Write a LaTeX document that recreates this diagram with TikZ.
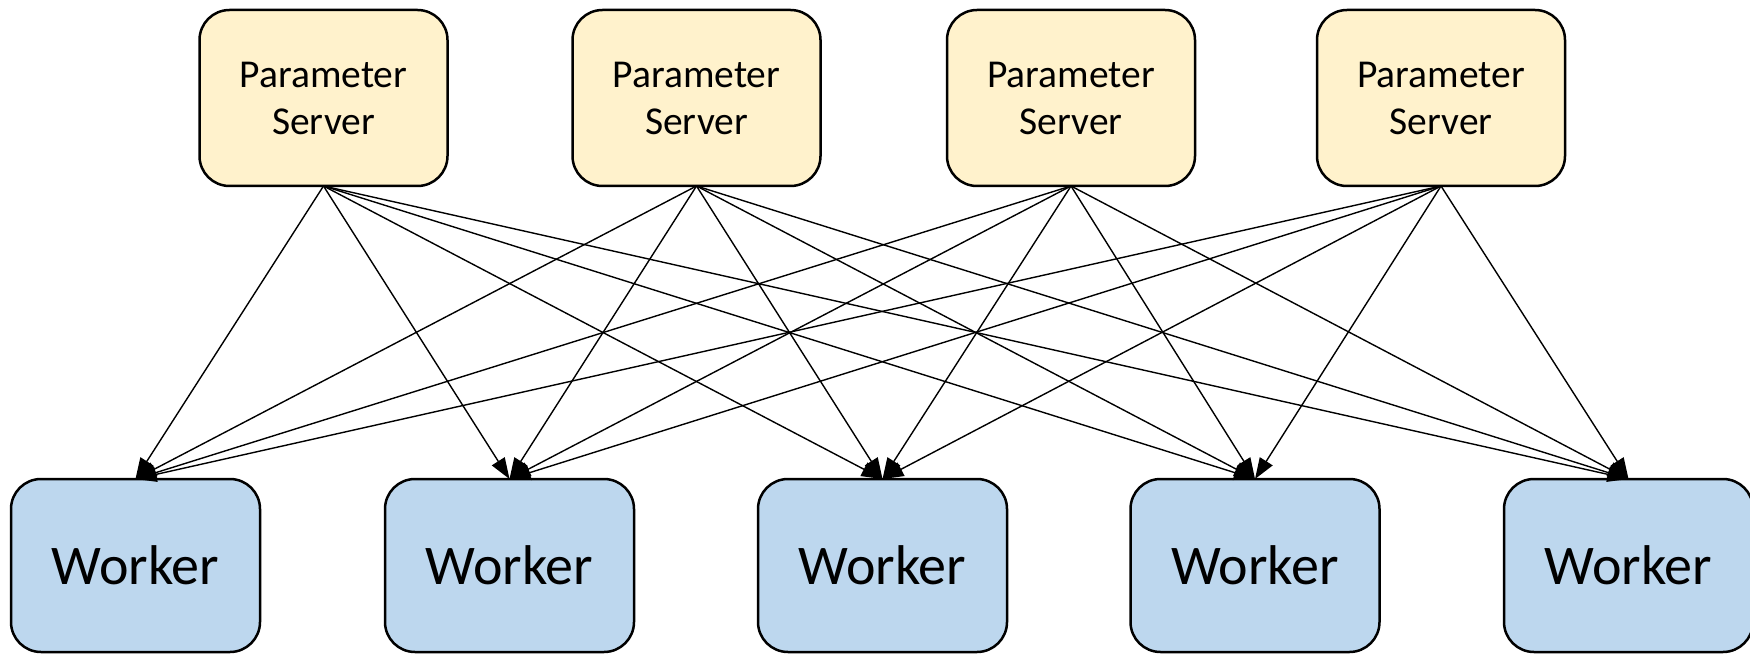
\documentclass[tikz,border=0pt]{standalone}
\usepackage{fontspec}
\setmainfont{Carlito}
\usetikzlibrary{arrows.meta}
\definecolor{psfill}{HTML}{FFF2CC}
\definecolor{wkfill}{HTML}{BDD7EE}
\tikzset{
  psbox/.style={draw=black, line width=2.5pt, fill=psfill, rounded corners=30pt,
    minimum width=248pt, minimum height=176pt, inner sep=0pt, outer sep=0pt,
    align=center, font=\fontsize{39.5}{47}\selectfont},
  wkbox/.style={draw=black, line width=2.5pt, fill=wkfill, rounded corners=30pt,
    minimum width=249pt, minimum height=173pt, inner sep=0pt, outer sep=0pt,
    font=\fontsize{56}{66}\selectfont},
  link/.style={line width=1.4pt, -{Triangle[length=21pt,width=15pt]}}
}
\begin{document}
\begin{tikzpicture}[x=1pt,y=-1pt]
\useasboundingbox (0,0) rectangle (1750,655);
% parameter servers
\node[psbox] (p1) at (323.5,98) {Parameter\\Server};
\node[psbox] (p2) at (696.5,98) {Parameter\\Server};
\node[psbox] (p3) at (1071,98) {Parameter\\Server};
\node[psbox] (p4) at (1441,98) {Parameter\\Server};
% workers
\node[wkbox] (w1) at (135.5,565.5) {Worker};
\node[wkbox] (w2) at (509.5,565.5) {Worker};
\node[wkbox] (w3) at (882.5,565.5) {Worker};
\node[wkbox] (w4) at (1255,565.5) {Worker};
\node[wkbox] (w5) at (1628.5,565.5) {Worker};
% every server feeds every worker
\foreach \p in {p1,p2,p3,p4}
  \foreach \w in {w1,w2,w3,w4,w5}
    \draw[link] (\p.south) -- (\w.north);
\end{tikzpicture}
\end{document}
